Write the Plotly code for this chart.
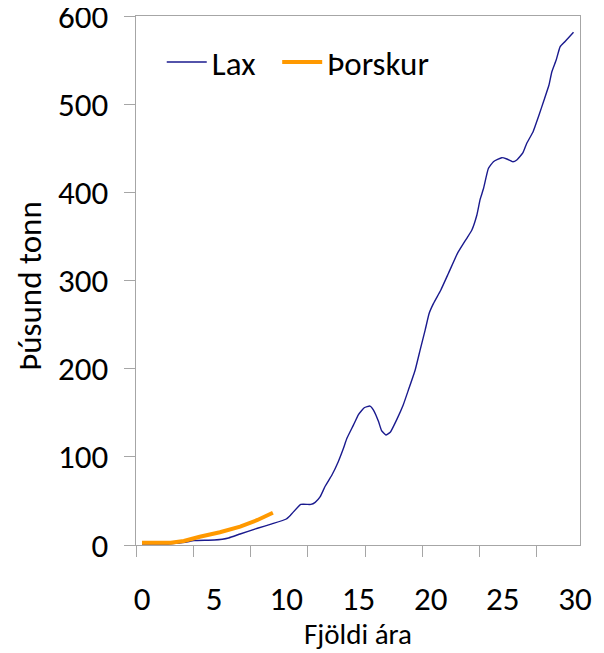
import plotly.graph_objects as go

# Lax (salmon) – thousand tonnes by number of years
lax_x = [0, 1, 2, 3, 3.6, 5.0, 6.0, 6.8, 8.0, 9.0, 10.0, 10.3, 11.0, 11.7, 12.0,
         12.35, 12.7, 13.16, 13.6, 13.96, 14.2, 14.65, 15.0, 15.4, 15.8, 16.04,
         16.39, 16.6, 16.9, 17.2, 17.66, 18.1, 18.46, 18.93, 19.27, 19.62, 19.9,
         20.2, 20.7, 21.23, 21.86, 22.16, 22.55, 22.85, 23.2, 23.43, 23.66, 24.0,
         24.35, 24.93, 25.28, 25.7, 25.97, 26.4, 26.66, 27.1, 27.47, 27.86, 28.2,
         28.4, 28.7, 28.97, 29.3, 29.9]
lax_y = [1, 1, 1.5, 3, 5, 5.6, 8, 12.5, 19, 24, 29.5, 34, 46, 46, 48.4,
         54.8, 66.9, 79.4, 94.5, 109.7, 121, 136, 148, 155.7, 157.6, 153,
         140, 129.7, 124.8, 127.8, 142.5, 158.8, 175.8, 198.5, 221, 243.8, 262.8,
         274, 289, 308, 330.8, 339, 349, 357, 374, 392, 404, 427,
         434.7, 439.3, 437.8, 434.7, 436.7, 445, 455.6, 468.8, 485.8, 504.7, 521.7,
         536.8, 550, 565, 570.8, 581.5]

# Þorskur (cod)
thorskur_x = [0, 1, 2, 2.9, 4.0, 5.4, 6.8, 8.0, 9.07]
thorskur_y = [2.5, 2.5, 2.5, 4.5, 9.4, 14.4, 20.8, 28.4, 36.6]

x_ticks = [0, 5, 10, 15, 20, 25, 30]
y_ticks = [0, 100, 200, 300, 400, 500, 600]

x_title = "Fjöldi ára"
y_title = "Þúsund tonn"

FONT = "Calibri, Carlito, Lato, sans-serif"
AXIS_COLOR = "#A6A6A6"
FS = 33

fig = go.Figure()
fig.add_trace(go.Scatter(x=lax_x, y=lax_y, mode="lines", name="Lax", legend="legend",
                         line=dict(color="#1A1A8E", width=1.4, shape="spline", smoothing=0.4)))
fig.add_trace(go.Scatter(x=thorskur_x, y=thorskur_y, mode="lines", name="Þorskur", legend="legend2",
                         line=dict(color="#FF9900", width=4)))

legend_style = dict(orientation="h", y=0.966, xanchor="left", yanchor="top",
                    bgcolor="rgba(0,0,0,0)", font=dict(size=FS), itemwidth=40)

# the page body adds an 8px offset, so the figure is 8px smaller and margins compensate
fig.update_layout(
    width=596, height=645,
    margin=dict(l=128, r=24, t=8, b=108),
    paper_bgcolor="white", plot_bgcolor="white",
    font=dict(family=FONT, size=FS, color="black"),
    showlegend=True,
    legend=dict(x=0.058, **legend_style),
    legend2=dict(x=0.318, **legend_style),
    annotations=[
        dict(text=x_title, xref="paper", yref="paper", x=0.5, y=-0.1683,
             xanchor="center", yanchor="middle", showarrow=False,
             font=dict(size=29)),
        dict(text=y_title, xref="paper", yref="paper", x=-0.2387, y=0.49,
             xanchor="center", yanchor="middle", showarrow=False, textangle=-90,
             font=dict(size=FS)),
    ],
)

fig.update_xaxes(
    range=[-0.415, 30.35], automargin=False,
    tickvals=x_ticks, ticktext=[str(v) for v in x_ticks],
    ticks="", showgrid=False, zeroline=False,
    showline=True, linecolor=AXIS_COLOR, linewidth=1.3, mirror=True,
    ticklabelstandoff=24, ticklabeloverflow="allow",
    minor=dict(ticks="outside", ticklen=11, tickcolor=AXIS_COLOR, tickwidth=1.3,
               tick0=-0.415, dtick=3.967, showgrid=False),
)
fig.update_yaxes(
    range=[0, 600], automargin=False,
    tickvals=y_ticks,
    ticks="outside", ticklen=11, tickcolor=AXIS_COLOR, tickwidth=1.3,
    showgrid=False, zeroline=False,
    showline=True, linecolor=AXIS_COLOR, linewidth=1.3, mirror=True,
    ticklabelstandoff=9, ticklabeloverflow="allow",
)

fig.write_html("out.html")
